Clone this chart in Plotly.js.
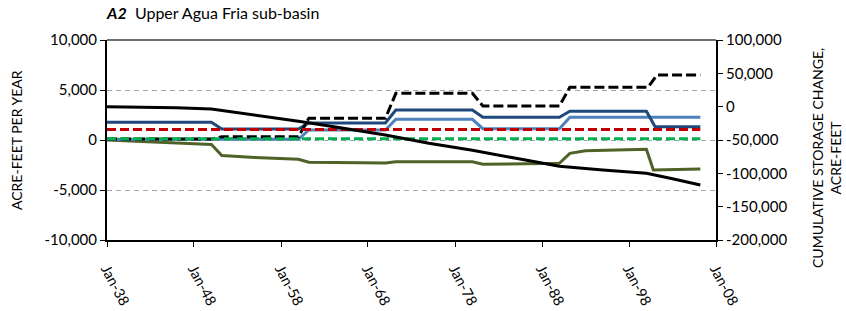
<!DOCTYPE html>
<html>
<head>
<meta charset="utf-8">
<script src="https://cdn.plot.ly/plotly-3.0.1.min.js"></script>
<style>html,body{margin:0;padding:0;background:#fff;}#chart{width:846px;height:311px;}</style>
</head>
<body>
<div id="chart"></div>
<script>
// ---- data (decimal years) ----
const darkBlueYears = [1938, 1950.0, 1951.2, 1960.0, 1961.2, 1970.0, 1971.2, 1980.0, 1981.2, 1990.0, 1991.2, 2000.0, 2001.0, 2006.2];
const darkBlueVals  = [1770, 1770, 1100, 1100, 1700, 1700, 3000, 3000, 2270, 2270, 2870, 2870, 1330, 1330];

const lightBlueYears = [1938, 1960.0, 1961.2, 1970.0, 1971.2, 1980.0, 1981.2, 1990.0, 1991.2, 2006.2];
const lightBlueVals  = [70, 70, 1000, 1000, 2070, 2070, 1130, 1130, 2270, 2270];

const blackDashYears = [1938, 1950.0, 1951.2, 1960.0, 1961.2, 1970.0, 1971.2, 1980.0, 1981.2, 1990.0, 1991.2, 2000.2, 2001.2, 2006.2];
const blackDashVals  = [100, 100, 330, 330, 2170, 2170, 4670, 4670, 3400, 3400, 5270, 5270, 6500, 6500];

const redDashYears = [1938, 2006.2];
const redDashVals  = [1050, 1050];

const greenDashYears = [1938, 2006.2];
const greenDashVals  = [130, 130];

const oliveYears = [1938, 1950.0, 1951.2, 1955, 1960.0, 1961.2, 1970.0, 1971.2, 1980.0, 1981.2, 1990.0, 1991.2, 1993, 2000.0, 2000.8, 2006.2];
const oliveVals  = [0, -450, -1550, -1750, -1930, -2230, -2300, -2170, -2170, -2430, -2330, -1330, -1070, -930, -3000, -2900];

const storageYears = [1938, 1942, 1946, 1950, 1952, 1955, 1960, 1965, 1970, 1975, 1980, 1985, 1990, 1995, 2000, 2003, 2006.2];
const storageVals  = [0, -500, -1500, -3500, -7000, -12500, -22000, -32000, -42500, -55000, -65500, -77500, -89500, -95000, -100000, -108000, -117500];

const xTickYears = [1938, 1948, 1958, 1968, 1978, 1988, 1998, 2008];
const xTickText  = ['Jan-38', 'Jan-48', 'Jan-58', 'Jan-68', 'Jan-78', 'Jan-88', 'Jan-98', 'Jan-08'];
const leftTickVals  = [-10000, -5000, 0, 5000, 10000];
const leftTickText  = ['-10,000', '-5,000', '0', '5,000', '10,000'];
const rightTickVals = [-200000, -150000, -100000, -50000, 0, 50000, 100000];
const rightTickText = ['-200,000', '-150,000', '-100,000', '-50,000', '0', '50,000', '100,000'];

// decimal year -> ISO date
function toDate(d) {
  const y = Math.floor(d);
  const s = Date.UTC(y, 0, 1), e = Date.UTC(y + 1, 0, 1);
  return new Date(s + (d - y) * (e - s)).toISOString().slice(0, 10);
}
const dates = a => a.map(toDate);

const FONT = 'Lato, "Open Sans", sans-serif';

const traces = [
  {x: dates(oliveYears), y: oliveVals, mode: 'lines', line: {color: '#4F6228', width: 3}, name: 'olive'},
  {x: dates(lightBlueYears), y: lightBlueVals, mode: 'lines', line: {color: '#4F81BD', width: 3}, name: 'light blue'},
  {x: dates(darkBlueYears), y: darkBlueVals, mode: 'lines', line: {color: '#1F497D', width: 3}, name: 'dark blue'},
  {x: dates(blackDashYears), y: blackDashVals, mode: 'lines', line: {color: '#000000', width: 3, dash: '10px,4px'}, name: 'black dash'},
  {x: dates(redDashYears), y: redDashVals, mode: 'lines', line: {color: '#C00000', width: 3, dash: '9px,4px'}, name: 'red dash'},
  {x: dates(greenDashYears), y: greenDashVals, mode: 'lines', line: {color: '#00B050', width: 3, dash: '9px,4px'}, name: 'green dash'},
  {x: dates(storageYears), y: storageVals, yaxis: 'y2', mode: 'lines', line: {color: '#000000', width: 3}, name: 'cumulative storage'}
];

const layout = {
  width: 846, height: 311,
  margin: {l: 107, r: 130, t: 40, b: 71, pad: 0},
  paper_bgcolor: '#ffffff', plot_bgcolor: '#ffffff',
  showlegend: false,
  font: {family: FONT, size: 14, color: '#000000'},
  title: {
    text: '<b><i>A2</i></b>  Upper Agua Fria sub-basin',
    font: {family: FONT, size: 16, color: '#000000'},
    xref: 'paper', x: 0, xanchor: 'left',
    yref: 'container', y: 0.958, yanchor: 'middle'
  },
  xaxis: {
    type: 'date',
    range: [toDate(1938), toDate(2008)],
    tickmode: 'array', tickvals: dates(xTickYears), ticktext: xTickText,
    tickangle: 62, ticks: 'outside', ticklen: 5, tickcolor: '#000', tickwidth: 1,
    ticklabelstandoff: 8,
    showline: true, linecolor: '#000', linewidth: 2,
    showgrid: false, zeroline: false,
    tickfont: {family: FONT, size: 14.5, color: '#000'}
  },
  yaxis: {
    range: [-10000, 10000],
    tickmode: 'array', tickvals: leftTickVals, ticktext: leftTickText,
    ticks: 'outside', ticklen: 5, tickcolor: '#000', tickwidth: 1,
    showline: true, linecolor: '#000', linewidth: 2,
    showgrid: true, gridcolor: '#A6A6A6', gridwidth: 1, griddash: '5px,4px',
    zeroline: false,
    tickfont: {family: FONT, size: 15, color: '#000'}
  },
  yaxis2: {
    overlaying: 'y', side: 'right',
    range: [-200000, 100000],
    tickmode: 'array', tickvals: rightTickVals, ticktext: rightTickText,
    ticks: 'outside', ticklen: 5, tickcolor: '#000', tickwidth: 1,
    showline: true, linecolor: '#000', linewidth: 2,
    showgrid: false, zeroline: false,
    tickfont: {family: FONT, size: 15, color: '#000'}
  },
  shapes: [
    {type: 'line', xref: 'paper', yref: 'paper', x0: 0, x1: 1, y0: 1, y1: 1, line: {color: '#404040', width: 1.5}}
  ],
  annotations: [
    {text: 'ACRE-FEET PER YEAR', textangle: -90, xref: 'paper', yref: 'paper',
     x: (16 - 107) / 609, y: 0.5, xanchor: 'center', yanchor: 'middle', showarrow: false,
     font: {family: FONT, size: 14, color: '#000'}},
    {text: 'CUMULATIVE STORAGE CHANGE,<br>ACRE-FEET', textangle: -90, xref: 'paper', yref: 'paper',
     x: (826 - 107) / 609, y: (240 - 158) / 200, xanchor: 'center', yanchor: 'middle', showarrow: false,
     align: 'center', font: {family: FONT, size: 14, color: '#000'}}
  ]
};

Plotly.newPlot('chart', traces, layout, {staticPlot: true, displayModeBar: false});
</script>
</body>
</html>
